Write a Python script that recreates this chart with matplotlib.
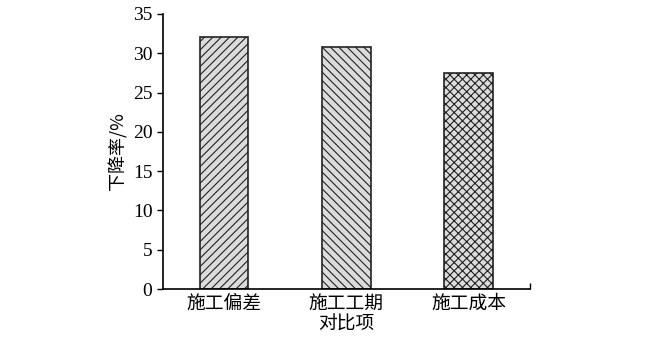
import matplotlib

matplotlib.use("Agg")
import matplotlib.pyplot as plt

categories = ["施工偏差", "施工工期", "施工成本"]
values = [32.1, 30.8, 27.5]
hatches = ["////", "\\\\\\\\", "xxxx"]
y_ticks = [0, 5, 10, 15, 20, 25, 30, 35]

plt.rcParams["font.family"] = ["Liberation Serif", "Noto Sans CJK SC"]
plt.rcParams["hatch.color"] = "#444444"
plt.rcParams["hatch.linewidth"] = 0.8

fig = plt.figure(figsize=(6.7, 3.4), dpi=100)
ax = fig.add_axes([0.243, 0.15, 0.548, 0.809])

x = list(range(len(categories)))
for xi, v, h in zip(x, values, hatches):
    ax.bar(xi, v, width=0.4, color="#dcdcdc", edgecolor="#222222",
           linewidth=1.2, hatch=h, zorder=2)

ax.set_xlim(-0.5, 2.5)
ax.set_ylim(0, 35)
ax.set_yticks(y_ticks)
ax.set_xticks(x)
ax.set_xticklabels(categories, fontsize=13.5, family=["Noto Sans CJK SC"])
ax.set_xticks([2.5], minor=True)

for s in ["top", "right"]:
    ax.spines[s].set_visible(False)
for s in ["left", "bottom"]:
    ax.spines[s].set_linewidth(1.2)

ax.tick_params(axis="y", direction="out", length=4, width=1, labelsize=14)
ax.tick_params(axis="x", which="both", direction="in", length=4, width=1,
               pad=3)

ax.set_ylabel("下降率/%", fontsize=13, family=["Noto Sans CJK SC", "DejaVu Sans"],
              labelpad=4)
ax.set_xlabel("对比项", fontsize=13.5, family=["Noto Sans CJK SC"], labelpad=0)

fig.savefig("out.png", dpi=100)
